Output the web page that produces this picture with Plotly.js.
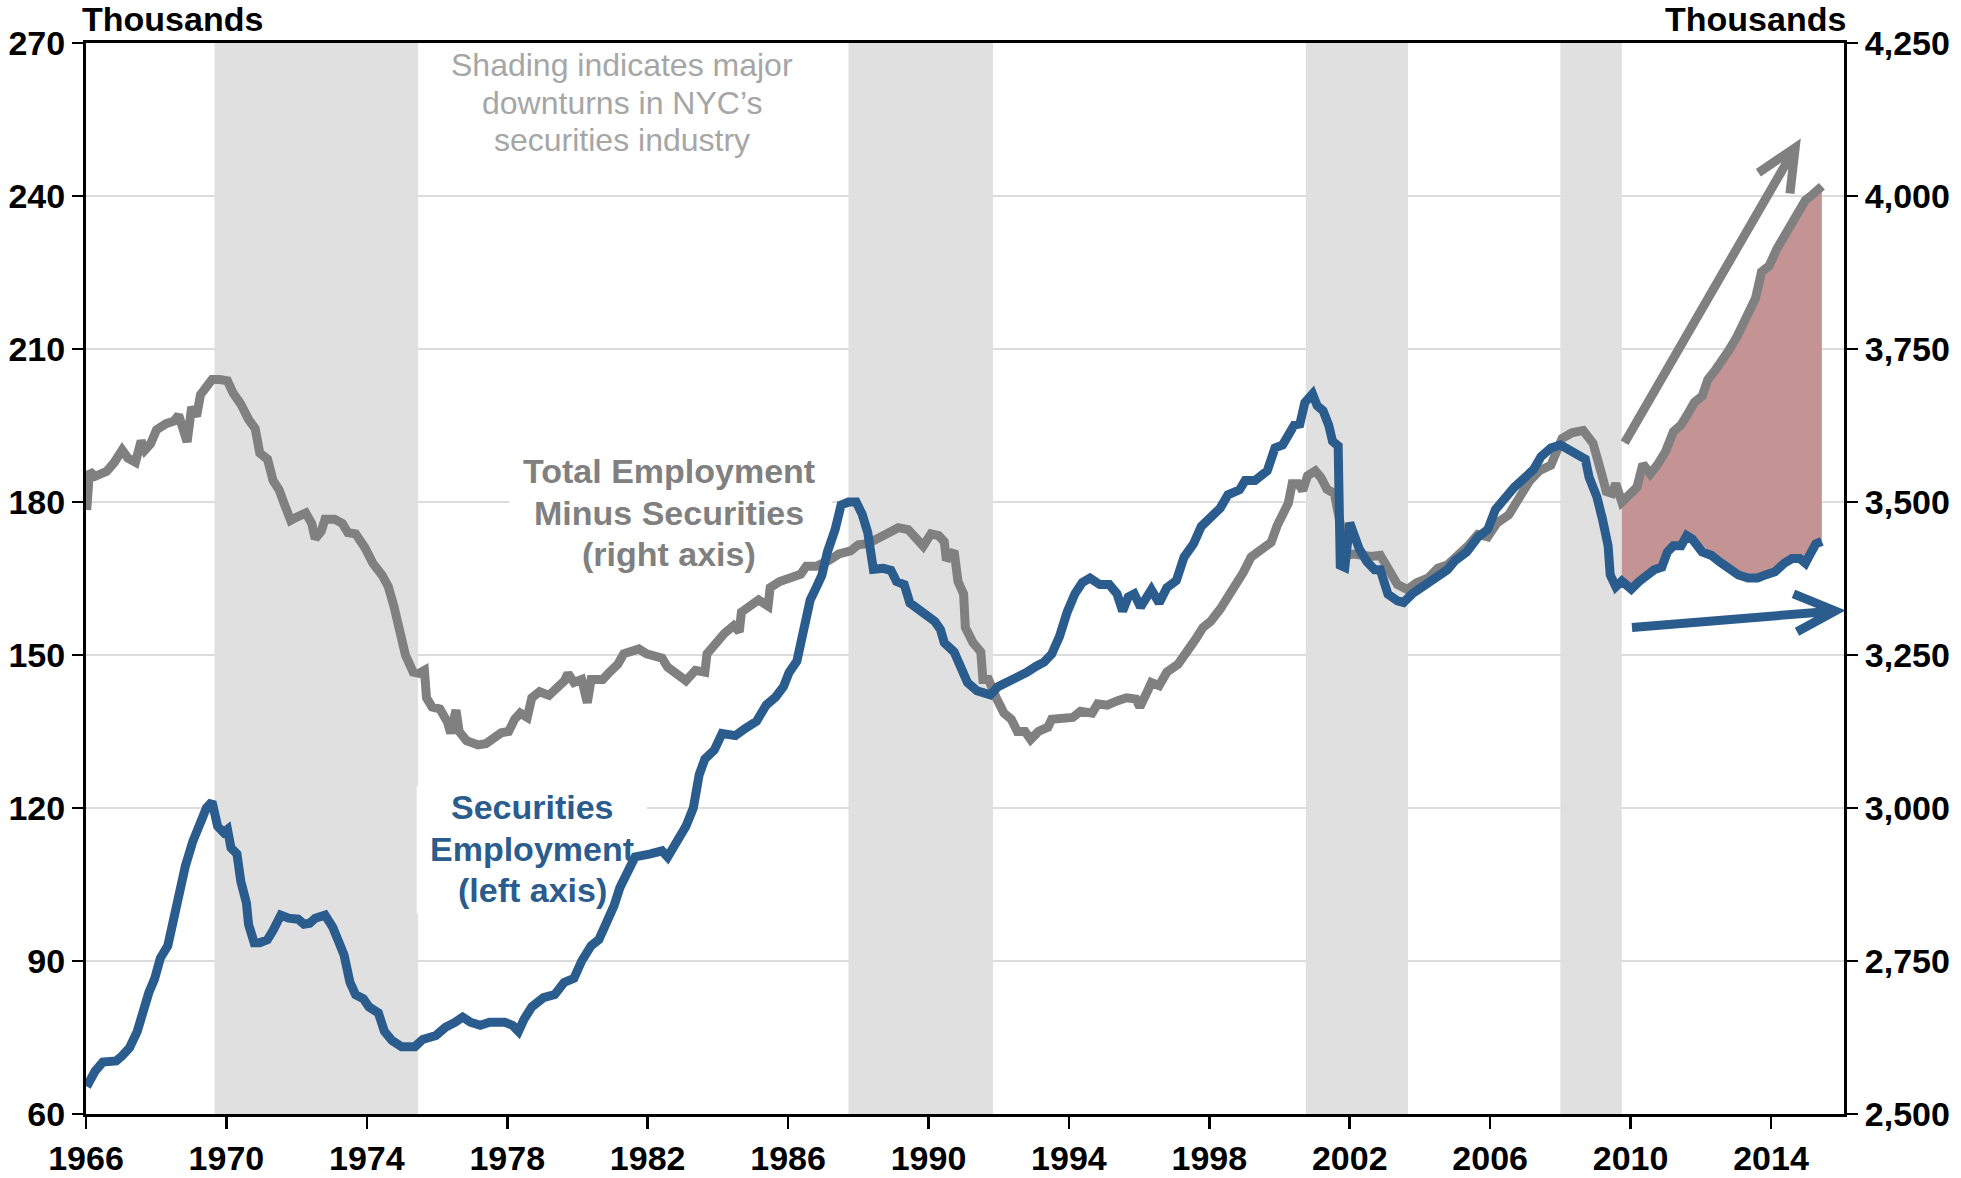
<!DOCTYPE html>
<html>
<head>
<meta charset="utf-8">
<script src="https://cdn.plot.ly/plotly-3.0.1.min.js"></script>
<style>
  body { margin: 0; background: #fff; }
  #chart { width: 1961px; height: 1178px; }
</style>
</head>
<body>
<div id="chart"></div>
<script>
// NYC employment: securities industry vs. everything else (thousands)

// total employment minus securities (right axis)
const totalYears = [
  1966.02, 1966.10, 1966.26, 1966.59, 1966.81, 1967.03, 1967.19, 1967.41, 1967.57, 1967.68,
  1967.84, 1968.01, 1968.28, 1968.50, 1968.64, 1968.72, 1968.88, 1969.01, 1969.15, 1969.26,
  1969.43, 1969.59, 1969.81, 1970.03, 1970.19, 1970.41, 1970.63, 1970.82, 1970.95, 1971.17,
  1971.33, 1971.50, 1971.66, 1971.83, 1971.99, 1972.26, 1972.43, 1972.53, 1972.70, 1972.81,
  1973.08, 1973.30, 1973.46, 1973.68, 1973.95, 1974.17, 1974.44, 1974.61, 1974.77, 1974.93,
  1975.10, 1975.32, 1975.48, 1975.64, 1975.70, 1975.86, 1976.08, 1976.30, 1976.39, 1976.54,
  1976.63, 1976.84, 1977.17, 1977.39, 1977.61, 1977.83, 1978.04, 1978.21, 1978.37, 1978.57,
  1978.70, 1978.92, 1979.19, 1979.41, 1979.63, 1979.73, 1979.90, 1980.12, 1980.28, 1980.39,
  1980.72, 1980.88, 1981.15, 1981.32, 1981.53, 1981.75, 1981.97, 1982.19, 1982.41, 1982.57,
  1982.84, 1983.09, 1983.36, 1983.63, 1983.69, 1983.90, 1984.18, 1984.45, 1984.61, 1984.67,
  1984.94, 1985.16, 1985.43, 1985.49, 1985.76, 1986.09, 1986.36, 1986.52, 1986.80, 1987.18,
  1987.45, 1987.78, 1988.00, 1988.27, 1988.54, 1988.82, 1989.14, 1989.42, 1989.64, 1989.85,
  1990.07, 1990.29, 1990.45, 1990.51, 1990.73, 1990.84, 1991.00, 1991.05, 1991.27, 1991.49,
  1991.55, 1991.71, 1991.93, 1992.15, 1992.36, 1992.53, 1992.75, 1992.91, 1993.13, 1993.40,
  1993.51, 1993.84, 1994.11, 1994.33, 1994.66, 1994.82, 1995.09, 1995.37, 1995.64, 1995.91,
  1996.02, 1996.19, 1996.35, 1996.57, 1996.79, 1997.11, 1997.39, 1997.60, 1997.82, 1998.04,
  1998.31, 1998.53, 1998.75, 1998.97, 1999.19, 1999.41, 1999.60, 1999.76, 1999.93, 2000.09,
  2000.25, 2000.36, 2000.53, 2000.66, 2000.80, 2001.02, 2001.18, 2001.35, 2001.56, 2001.78,
  2001.89, 2002.11, 2002.38, 2002.60, 2002.87, 2003.09, 2003.36, 2003.64, 2003.91, 2004.24,
  2004.51, 2004.78, 2005.11, 2005.38, 2005.65, 2005.93, 2006.20, 2006.53, 2006.85, 2007.13,
  2007.40, 2007.73, 2008.05, 2008.33, 2008.65, 2008.93, 2009.15, 2009.31, 2009.47, 2009.58,
  2009.75, 2010.02, 2010.18, 2010.35, 2010.56, 2010.78, 2011.00, 2011.22, 2011.44, 2011.60,
  2011.82, 2012.04, 2012.20, 2012.42, 2012.64, 2012.80, 2013.02, 2013.18, 2013.35, 2013.56,
  2013.73, 2013.95, 2014.16, 2014.38, 2014.60, 2014.82, 2014.98, 2015.20, 2015.45
];
const totalEmp = [
  3487, 3550, 3542, 3550, 3565, 3585, 3572, 3565, 3600, 3585,
  3595, 3618, 3628, 3632, 3642, 3630, 3598, 3655, 3640, 3675,
  3688, 3700, 3700, 3698, 3678, 3660, 3635, 3620, 3580, 3570,
  3535, 3520, 3495, 3470, 3475, 3482, 3465, 3440, 3452, 3472,
  3472, 3465, 3450, 3448, 3425, 3400, 3380, 3362, 3330, 3290,
  3250, 3222, 3220, 3225, 3180, 3165, 3162, 3140, 3122, 3160,
  3125, 3110, 3103, 3105, 3115, 3123, 3125, 3145, 3155, 3148,
  3180, 3190, 3184, 3194, 3208, 3220, 3205, 3210, 3172, 3210,
  3210, 3220, 3235, 3252, 3255, 3260, 3252, 3248, 3245, 3230,
  3220, 3208, 3225, 3222, 3252, 3268, 3285, 3298, 3288, 3320,
  3330, 3340, 3330, 3360, 3370, 3378, 3382, 3395, 3395, 3405,
  3415, 3420, 3430, 3432, 3440, 3450, 3458, 3455, 3440, 3428,
  3448, 3445, 3435, 3405, 3420, 3370, 3350, 3295, 3270, 3255,
  3210, 3210, 3180, 3155, 3145, 3125, 3125, 3112, 3125, 3132,
  3145, 3147, 3148, 3158, 3155, 3170, 3168, 3175, 3180, 3178,
  3165, 3185, 3205, 3200, 3222, 3235, 3255, 3275, 3295, 3305,
  3325, 3345, 3360, 3385, 3410, 3420, 3429, 3434, 3461, 3482,
  3498, 3530, 3530, 3519, 3543, 3551, 3540, 3521, 3514, 3450,
  3413, 3415, 3413, 3411, 3413, 3392, 3365, 3357, 3368, 3376,
  3392, 3397, 3413, 3429, 3447, 3443, 3466, 3479, 3509, 3535,
  3551, 3560, 3604, 3613, 3617, 3596, 3551, 3517, 3514, 3530,
  3500, 3514, 3524, 3562, 3546, 3562, 3583, 3615, 3626, 3641,
  3663, 3673, 3700, 3716, 3732, 3748, 3769, 3790, 3806, 3833,
  3876, 3886, 3913, 3934, 3961, 3977, 3993, 4003, 4016
];

// securities industry employment (left axis)
const secYears = [
  1966.02, 1966.26, 1966.48, 1966.86, 1967.03, 1967.24, 1967.46, 1967.63, 1967.79, 1967.95,
  1968.12, 1968.33, 1968.50, 1968.66, 1968.83, 1969.04, 1969.26, 1969.43, 1969.59, 1969.75,
  1969.92, 1970.03, 1970.13, 1970.30, 1970.41, 1970.57, 1970.63, 1970.79, 1970.95, 1971.17,
  1971.33, 1971.55, 1971.77, 1972.04, 1972.21, 1972.37, 1972.53, 1972.81, 1973.03, 1973.19,
  1973.35, 1973.52, 1973.68, 1973.90, 1974.06, 1974.33, 1974.50, 1974.72, 1974.99, 1975.37,
  1975.59, 1975.97, 1976.24, 1976.52, 1976.73, 1976.95, 1977.23, 1977.50, 1977.93, 1978.15,
  1978.32, 1978.48, 1978.70, 1979.03, 1979.35, 1979.62, 1979.90, 1980.12, 1980.39, 1980.61,
  1980.77, 1981.04, 1981.21, 1981.43, 1981.64, 1982.08, 1982.41, 1982.57, 1982.79, 1983.09,
  1983.30, 1983.47, 1983.63, 1983.90, 1984.12, 1984.50, 1984.78, 1985.10, 1985.38, 1985.65,
  1985.87, 1986.03, 1986.25, 1986.36, 1986.47, 1986.63, 1986.80, 1986.96, 1987.12, 1987.34,
  1987.51, 1987.72, 1987.94, 1988.11, 1988.27, 1988.43, 1988.71, 1988.93, 1989.09, 1989.31,
  1989.47, 1989.74, 1990.02, 1990.18, 1990.34, 1990.45, 1990.73, 1990.95, 1991.11, 1991.38,
  1991.60, 1991.76, 1991.98, 1992.26, 1992.53, 1992.80, 1993.07, 1993.29, 1993.51, 1993.73,
  1993.95, 1994.17, 1994.38, 1994.60, 1994.88, 1995.15, 1995.37, 1995.53, 1995.69, 1995.86,
  1996.04, 1996.35, 1996.57, 1996.79, 1997.06, 1997.28, 1997.55, 1997.77, 1998.04, 1998.31,
  1998.53, 1998.86, 1999.02, 1999.30, 1999.65, 1999.87, 2000.09, 2000.25, 2000.42, 2000.58,
  2000.72, 2000.94, 2001.07, 2001.24, 2001.40, 2001.51, 2001.67, 2001.73, 2001.86, 2002.00,
  2002.11, 2002.27, 2002.49, 2002.71, 2002.87, 2003.09, 2003.36, 2003.53, 2003.80, 2004.13,
  2004.45, 2004.78, 2005.00, 2005.33, 2005.65, 2005.93, 2006.15, 2006.42, 2006.69, 2006.96,
  2007.24, 2007.45, 2007.73, 2008.00, 2008.27, 2008.49, 2008.71, 2008.82, 2009.04, 2009.20,
  2009.36, 2009.42, 2009.58, 2009.75, 2009.80, 2010.02, 2010.24, 2010.45, 2010.67, 2010.89,
  2011.05, 2011.22, 2011.44, 2011.60, 2011.76, 2012.04, 2012.31, 2012.53, 2012.80, 2013.07,
  2013.35, 2013.62, 2013.84, 2014.11, 2014.38, 2014.60, 2014.82, 2014.98, 2015.15, 2015.28,
  2015.45
];
const secEmp = [
  65.4, 68.4, 70.2, 70.4, 71.4, 73.0, 76.2, 81.0, 83.8, 86.4,
  90.6, 93.0, 99.0, 103.8, 108.6, 113.4, 117.0, 120.0, 121.2, 116.4,
  115.2, 115.8, 112.2, 111.0, 105.6, 101.4, 97.2, 93.6, 93.6, 94.2,
  96.0, 99.0, 98.4, 98.2, 97.2, 97.4, 98.4, 99.0, 96.6, 94.2,
  91.2, 85.8, 83.4, 82.6, 81.0, 79.8, 76.2, 74.4, 73.2, 73.2,
  74.6, 75.4, 77.0, 78.0, 79.0, 78.0, 77.4, 78.0, 78.0, 77.4,
  76.2, 78.6, 81.0, 82.8, 83.4, 85.8, 86.6, 90.0, 93.0, 94.2,
  96.6, 100.8, 104.4, 107.4, 110.4, 111.0, 111.6, 110.4, 112.8, 116.4,
  120.0, 126.6, 129.6, 131.4, 134.6, 134.2, 135.6, 137.0, 140.2, 141.8,
  143.8, 146.6, 148.8, 152.4, 156.0, 160.8, 163.2, 165.6, 170.2, 174.6,
  179.4, 180.0, 180.0, 177.6, 174.0, 166.8, 167.0, 166.6, 164.4, 163.8,
  160.2, 159.0, 157.8, 156.6, 155.0, 152.4, 150.6, 147.0, 144.6, 143.0,
  142.6, 142.2, 143.8, 144.6, 145.8, 146.6, 147.8, 148.6, 150.2, 153.6,
  158.4, 162.0, 164.2, 165.1, 163.8, 163.8, 162.0, 158.6, 161.4, 162.0,
  159.4, 162.8, 160.2, 163.2, 164.6, 169.2, 171.8, 175.2, 177.0, 178.8,
  181.4, 182.4, 184.2, 184.2, 186.1, 190.6, 191.2, 193.5, 195.1, 195.3,
  199.5, 201.2, 198.9, 197.9, 195.1, 191.9, 191.0, 167.6, 167.2, 175.9,
  173.6, 170.8, 168.3, 166.7, 166.7, 161.9, 160.6, 160.3, 162.1, 163.8,
  165.1, 166.7, 168.5, 170.2, 173.1, 174.6, 178.5, 180.8, 182.9, 184.6,
  186.4, 188.9, 190.6, 191.2, 190.2, 189.3, 188.4, 184.8, 181.0, 176.6,
  171.4, 165.7, 163.4, 164.5, 164.2, 162.9, 164.4, 165.4, 166.7, 167.2,
  170.2, 171.4, 171.4, 173.4, 172.7, 170.2, 169.5, 168.3, 167.2, 165.7,
  165.1, 165.1, 165.7, 166.3, 168.0, 168.9, 168.9, 168.0, 170.2, 171.8,
  172.3
];

// major downturns in the securities industry (shaded)
const downturnStart = [1969.66, 1987.72, 2000.75, 2008.00];
const downturnEnd   = [1975.46, 1991.84, 2003.66, 2009.75];

const fillFrom = 2009.75;          // gap shaded from the end of the last downturn
const leftRange = [60, 270];
const rightRange = [2500, 4250];

const FONT = 'Liberation Sans, Arial, Helvetica, sans-serif';
const GRAY = '#808080';
const BLUE = '#2B5C8E';
const PINK = '#C49494';
const SHADE = '#E0E0E0';
const LINE_W = 9;

// left-axis value -> right-axis scale (both axes share the same grid)
const toRight = v => rightRange[0] + (v - leftRange[0]) * (rightRange[1] - rightRange[0]) / (leftRange[1] - leftRange[0]);

const fillSecX = secYears.filter(x => x >= fillFrom);
const fillSecY = secEmp.filter((v, i) => secYears[i] >= fillFrom).map(toRight);
const fillTotX = totalYears.filter(x => x >= fillFrom);
const fillTotY = totalEmp.filter((v, i) => totalYears[i] >= fillFrom);

const traces = [
  // gap between the two series after 2009
  { x: fillSecX, y: fillSecY, yaxis: 'y', type: 'scatter', mode: 'lines',
    line: { width: 0, color: PINK }, hoverinfo: 'skip' },
  { x: fillTotX, y: fillTotY, yaxis: 'y', type: 'scatter', mode: 'lines',
    fill: 'tonexty', fillcolor: PINK, line: { width: 0, color: PINK }, hoverinfo: 'skip' },
  { x: totalYears, y: totalEmp, yaxis: 'y', type: 'scatter', mode: 'lines',
    name: 'Total Employment Minus Securities', line: { color: GRAY, width: LINE_W } },
  { x: secYears, y: secEmp, yaxis: 'y2', type: 'scatter', mode: 'lines',
    name: 'Securities Employment', line: { color: BLUE, width: LINE_W } }
];

// shaded downturns + white boxes behind the series labels
const shapes = downturnStart.map((s, i) => ({
  type: 'rect', xref: 'x', yref: 'y', x0: s, x1: downturnEnd[i],
  y0: rightRange[0], y1: rightRange[1], fillcolor: SHADE, line: { width: 0 }, layer: 'between'
}));
shapes.push(
  { type: 'rect', xref: 'x', yref: 'y', x0: 1975.42, x1: 1981.98, y0: 2828, y1: 3036,
    fillcolor: '#fff', line: { width: 0 }, layer: 'between' },
  { type: 'rect', xref: 'x', yref: 'y', x0: 1978.06, x1: 1987.26, y0: 3374, y1: 3592,
    fillcolor: '#fff', line: { width: 0 }, layer: 'between' }
);

// arrows: shaft + open head
const arrows = [
  { from: [2009.83, 3597], tip: [2014.69, 4079], armA: [2013.64, 4038], armB: [2014.54, 4004], color: GRAY },
  { from: [2010.04, 3295], tip: [2015.83, 3322], armA: [2014.64, 3350], armB: [2014.74, 3288], color: BLUE }
];
arrows.forEach(a => {
  const p = pt => pt[0] + ',' + pt[1];
  shapes.push({
    type: 'path', xref: 'x', yref: 'y', layer: 'above',
    path: 'M' + p(a.from) + ' L' + p(a.tip) + ' M' + p(a.armA) + ' L' + p(a.tip) + ' L' + p(a.armB),
    line: { color: a.color, width: LINE_W }
  });
});

const label = (text, x, y, color, bold, size) => ({
  text: text, x: x, y: y, xref: 'x', yref: 'y2', showarrow: false,
  xanchor: 'center', yanchor: 'middle',
  font: { family: FONT, size: size || 34, color: color, weight: bold ? 'bold' : 'normal' }
});

const annotations = [
  label('Shading indicates major', 1981.28, 265.6, '#A6A6A6', false, 32),
  label('downturns in NYC\u2019s', 1981.28, 258.3, '#A6A6A6', false, 32),
  label('securities industry', 1981.28, 251.0, '#A6A6A6', false, 32),
  label('Total Employment', 1982.61, 186.1, GRAY, true),
  label('Minus Securities', 1982.61, 177.9, GRAY, true),
  label('(right axis)', 1982.61, 169.8, GRAY, true),
  label('Securities', 1978.71, 120.1, BLUE, true),
  label('Employment', 1978.71, 112.0, BLUE, true),
  label('(left axis)', 1978.71, 103.9, BLUE, true),
  { text: 'Thousands', xref: 'paper', yref: 'paper', x: -0.0035, y: 1.0224,
    xanchor: 'left', yanchor: 'middle', showarrow: false,
    font: { family: FONT, size: 34, color: '#000', weight: 'bold' } },
  { text: 'Thousands', xref: 'paper', yref: 'paper', x: 1.002, y: 1.0224,
    xanchor: 'right', yanchor: 'middle', showarrow: false,
    font: { family: FONT, size: 34, color: '#000', weight: 'bold' } }
];

const tickFont = { family: FONT, size: 34, color: '#000', weight: 'bold' };

const layout = {
  width: 1961,
  height: 1178,
  margin: { l: 86, r: 117, t: 43, b: 64 },
  paper_bgcolor: '#fff',
  plot_bgcolor: '#fff',
  showlegend: false,
  font: { family: FONT },
  xaxis: {
    range: [1966, 2016.08], tick0: 1966, dtick: 4,
    ticks: 'outside', ticklen: 12, tickwidth: 2.5, tickcolor: '#000',
    showline: true, linecolor: '#000', linewidth: 3, mirror: true,
    showgrid: false, zeroline: false, tickfont: tickFont
  },
  // right axis is the main one so the securities line draws on top
  yaxis: {
    range: rightRange, tick0: 2500, dtick: 250, tickformat: ',d', side: 'right',
    ticks: 'outside', ticklen: 11, tickwidth: 2.5, tickcolor: '#000',
    showline: true, linecolor: '#000', linewidth: 3,
    showgrid: true, gridcolor: '#DCDCDC', gridwidth: 2, zeroline: false, tickfont: tickFont
  },
  yaxis2: {
    range: leftRange, tick0: 60, dtick: 30, side: 'left', overlaying: 'y',
    ticks: 'outside', ticklen: 11, tickwidth: 2.5, tickcolor: '#000',
    showline: true, linecolor: '#000', linewidth: 3,
    showgrid: false, zeroline: false, tickfont: tickFont
  },
  shapes: shapes,
  annotations: annotations
};

Plotly.newPlot('chart', traces, layout, { displayModeBar: false, staticPlot: true });
</script>
</body>
</html>
